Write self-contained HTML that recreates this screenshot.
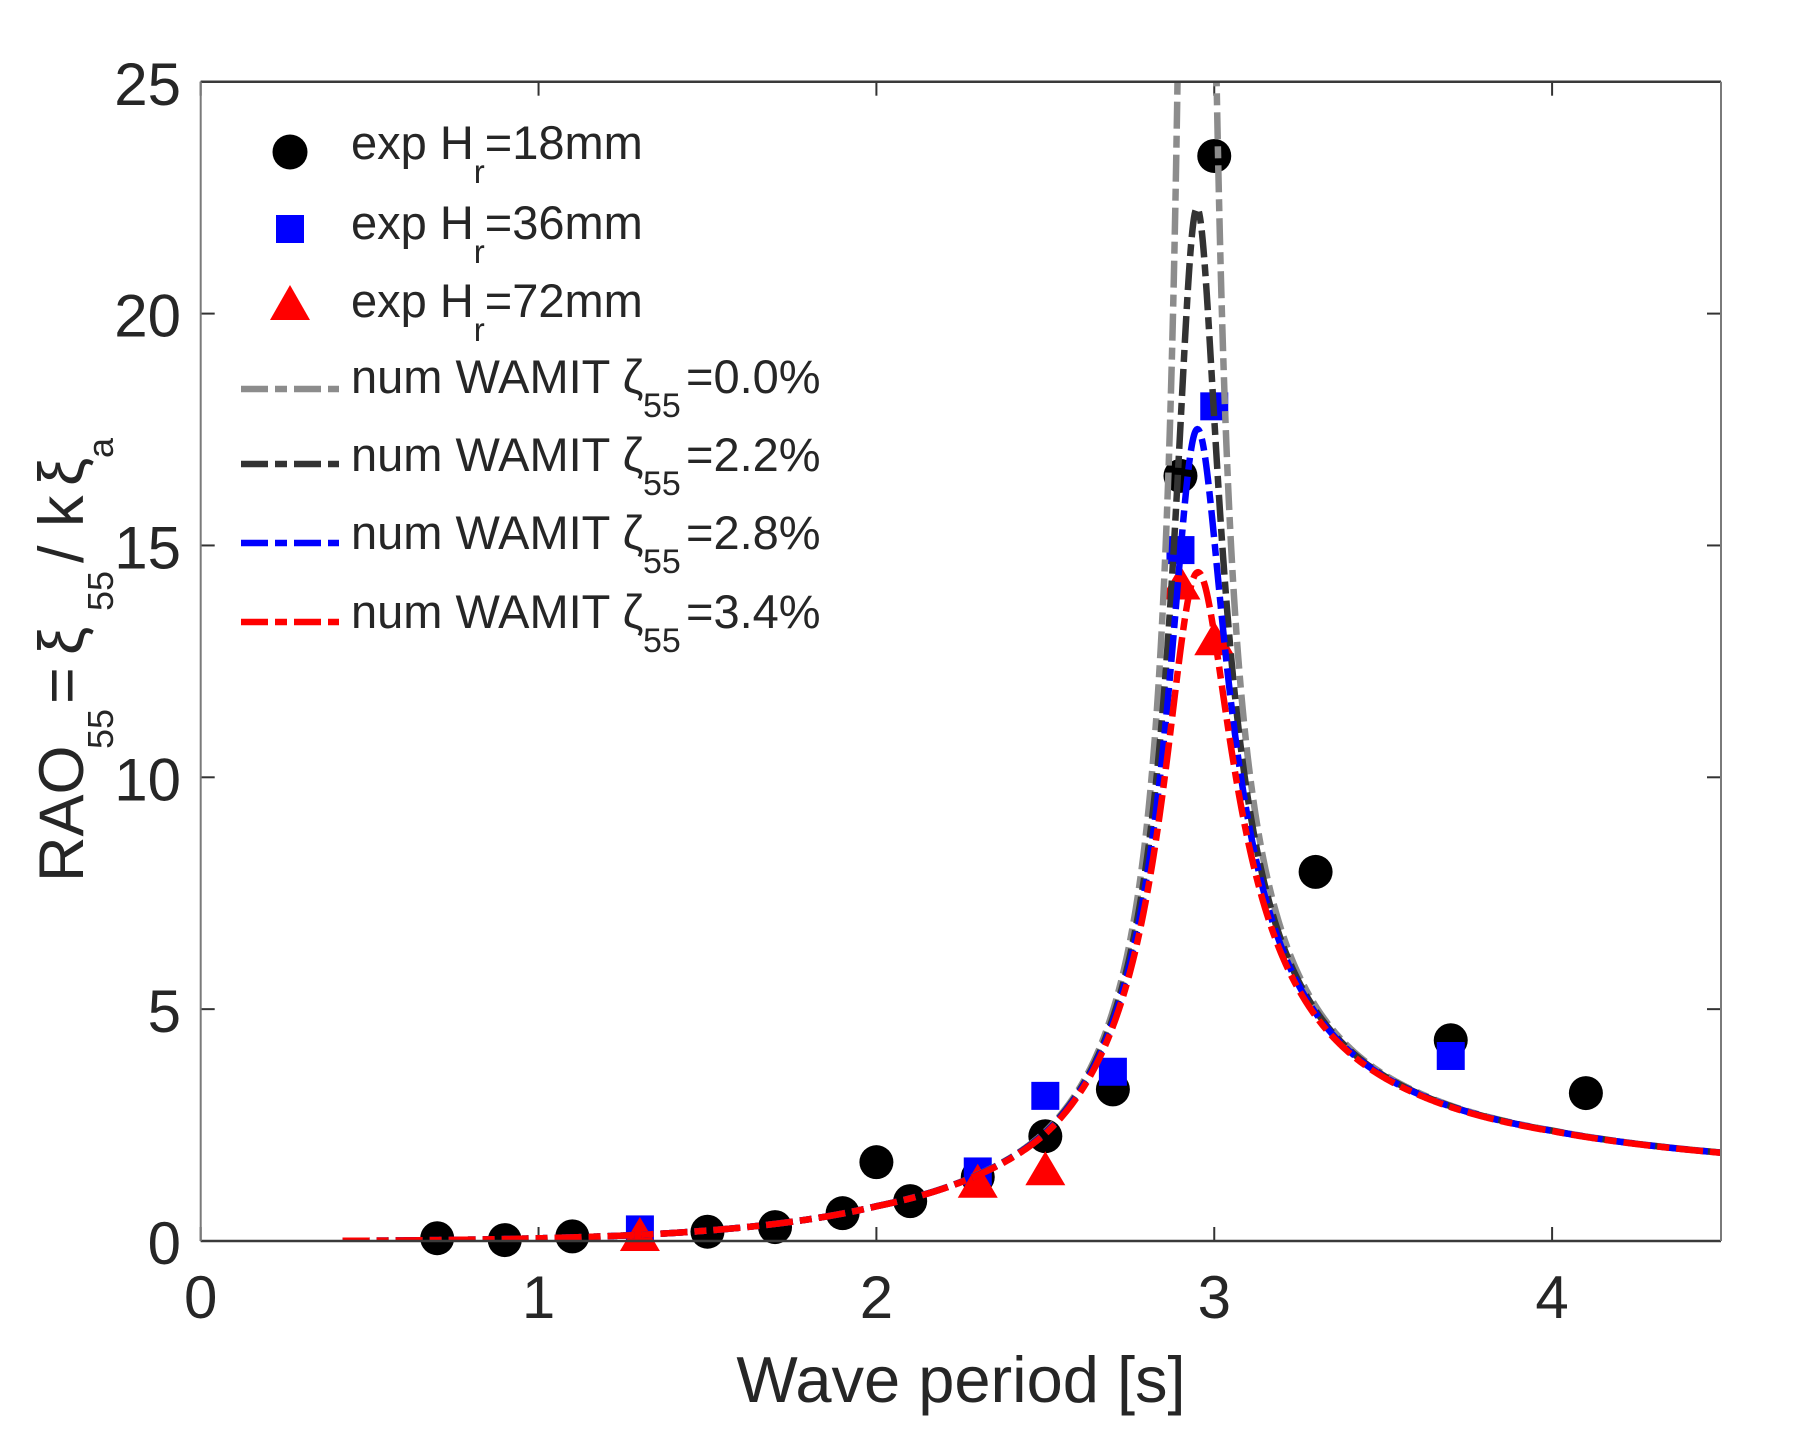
<!DOCTYPE html>
<html><head><meta charset="utf-8"><style>
html,body{margin:0;padding:0;background:#fff;}
svg{display:block;}
text{font-family:"Liberation Sans",Arial,sans-serif;fill:#262626;}
</style></head><body>
<svg id="s" width="1793" height="1454" viewBox="0 0 1793 1454" xmlns="http://www.w3.org/2000/svg">
<defs><clipPath id="c"><rect x="200.7" y="81.7" width="1520.3" height="1159.3"/></clipPath></defs>
<rect width="1793" height="1454" fill="#fff"/>
<g id="ticks" stroke="#333" stroke-width="2"></g>
<g id="markers"></g>
<g id="lines" clip-path="url(#c)" fill="none" stroke-width="6.5" stroke-dasharray="27 7 12 7"></g>
<!-- axes box -->
<line x1="200.7" y1="1241" x2="1721" y2="1241" stroke="#3a3a3a" stroke-width="2.5"/>
<line x1="200.7" y1="81.7" x2="1721" y2="81.7" stroke="#3a3a3a" stroke-width="2.5"/>
<line x1="200.7" y1="81.7" x2="200.7" y2="1241" stroke="#7a7a7a" stroke-width="2"/>
<line x1="1721" y1="81.7" x2="1721" y2="1241" stroke="#7a7a7a" stroke-width="2"/>
<g id="ticklabels" font-size="60"></g>
<text x="961" y="1402" font-size="65" text-anchor="middle">Wave period [s]</text>
<g transform="translate(83,0) rotate(-90)">
<text x="-882" y="0" font-size="63">RAO</text>
<text x="-749" y="30" font-size="36">55</text>
<text x="-704" y="0" font-size="63">=</text>
<text x="-655" y="0" font-size="63">ξ</text>
<text x="-611" y="30" font-size="36">55</text>
<text x="-563" y="0" font-size="63">/</text>
<text x="-527" y="0" font-size="63">k</text>
<text x="-486" y="0" font-size="63">ξ</text>
<text x="-458" y="30" font-size="36">a</text>
</g>
<!-- legend -->
<circle cx="290" cy="152" r="17.5" fill="#000"/>
<rect x="276" y="215" width="28" height="28" fill="#0000ff"/>
<polygon points="290,285 270,320 310,320" fill="#ff0000"/>
<text x="351" y="159" font-size="47">exp H<tspan font-size="33" dy="24">r</tspan><tspan font-size="47" dy="-24">=18mm</tspan></text>
<text x="351" y="239" font-size="47">exp H<tspan font-size="33" dy="24">r</tspan><tspan font-size="47" dy="-24">=36mm</tspan></text>
<text x="351" y="317" font-size="47">exp H<tspan font-size="33" dy="24">r</tspan><tspan font-size="47" dy="-24">=72mm</tspan></text>
<g fill="none" stroke-width="6.5" stroke-dasharray="27 7 12 7">
<line x1="241" y1="389" x2="339" y2="389" stroke="#8c8c8c"/>
<line x1="241" y1="464" x2="339" y2="464" stroke="#333333"/>
<line x1="241" y1="543" x2="339" y2="543" stroke="#0000ff"/>
<line x1="241" y1="622" x2="339" y2="622" stroke="#ff0000"/>
</g>
<text y="393" font-size="47"><tspan x="351">num WAMIT ζ</tspan><tspan x="643" font-size="34" dy="24">55</tspan><tspan x="686" dy="-24">=0.0%</tspan></text>
<text y="471" font-size="47"><tspan x="351">num WAMIT ζ</tspan><tspan x="643" font-size="34" dy="24">55</tspan><tspan x="686" dy="-24">=2.2%</tspan></text>
<text y="549" font-size="47"><tspan x="351">num WAMIT ζ</tspan><tspan x="643" font-size="34" dy="24">55</tspan><tspan x="686" dy="-24">=2.8%</tspan></text>
<text y="628" font-size="47"><tspan x="351">num WAMIT ζ</tspan><tspan x="643" font-size="34" dy="24">55</tspan><tspan x="686" dy="-24">=3.4%</tspan></text>
</svg>
<script>
(function(){
var NS="http://www.w3.org/2000/svg";
function X(v){return 200.7+337.85*v;}
function Y(v){return 1241-46.37*v;}
function el(tag,attrs,parent,txt){var e=document.createElementNS(NS,tag);for(var k in attrs)e.setAttribute(k,attrs[k]);if(txt!==undefined)e.textContent=txt;parent.appendChild(e);return e;}
var ticks=document.getElementById('ticks');
var tl=document.getElementById('ticklabels');
for(var i=0;i<=4;i++){var x=X(i);
 el('line',{x1:x,y1:1241,x2:x,y2:1227},ticks);
 el('line',{x1:x,y1:81.7,x2:x,y2:95.7},ticks);
 el('text',{x:x,y:1318,'text-anchor':'middle'},tl,String(i));}
for(var j=0;j<=25;j+=5){var y=Y(j);
 el('line',{x1:200.7,y1:y,x2:214.7,y2:y},ticks);
 el('line',{x1:1721,y1:y,x2:1707,y2:y},ticks);
 el('text',{x:181,y:y+23,'text-anchor':'end'},tl,String(j));}
var mk=document.getElementById('markers');
var black=[[0.7,0.06],[0.9,0.02],[1.1,0.1],[1.5,0.2],[1.7,0.3],[1.9,0.6],[2.0,1.7],[2.1,0.86],[2.3,1.38],[2.5,2.26],[2.7,3.27],[2.9,16.5],[3.0,23.4],[3.3,7.96],[3.7,4.33],[4.1,3.19]];
var blue=[[1.3,0.25],[2.3,1.5],[2.5,3.13],[2.7,3.65],[2.9,14.9],[3.0,18.0],[3.7,3.99]];
var red=[[1.3,0.15],[2.3,1.3],[2.5,1.57],[2.9,14.2],[3.0,13.0]];
black.forEach(function(p){el('circle',{cx:X(p[0]),cy:Y(p[1]),r:17,fill:'#000'},mk);});
blue.forEach(function(p){el('rect',{x:X(p[0])-14,y:Y(p[1])-14,width:28,height:28,fill:'#0000ff'},mk);});
red.forEach(function(p){var cx=X(p[0]),cy=Y(p[1]);el('polygon',{points:cx+','+(cy-17)+' '+(cx-20)+','+(cy+17)+' '+(cx+20)+','+(cy+17),fill:'#ff0000'},mk);});
var At=[[0.4,0.18],[0.7,0.33],[1.0,0.45],[1.3,0.55],[1.7,0.74],[2.0,0.88],[2.3,0.92],[2.5,0.92],[2.7,0.95],[2.95,0.98],[3.25,1.02],[3.6,1.06],[4.0,1.09],[4.6,1.09]];
function A(T){for(var i=0;i<At.length-1;i++){if(T<=At[i+1][0]){var t0=At[i][0],a0=At[i][1],t1=At[i+1][0],a1=At[i+1][1];return a0+(a1-a0)*(T-t0)/(t1-t0);}}return 1.09;}
var Tn=2.947;
function val(T,z){var r=Tn/T;var d=Math.sqrt(Math.pow(1-r*r,2)+Math.pow(2*z*r,2));var v=A(T)/Math.max(d,1e-4);return Math.min(v,60);}
var lines=document.getElementById('lines');
var series=[[0,'#8c8c8c'],[0.022,'#333333'],[0.028,'#0000ff'],[0.034,'#ff0000']];
series.forEach(function(s){
 var d='';var first=true;
 for(var T=0.42;T<=4.5001;T+=0.002){var v=val(T,s[0]);d+=(first?'M':'L')+X(T).toFixed(2)+','+Y(v).toFixed(2);first=false;}
 el('path',{d:d,stroke:s[1]},lines);
});
})();
</script>
</body></html>
